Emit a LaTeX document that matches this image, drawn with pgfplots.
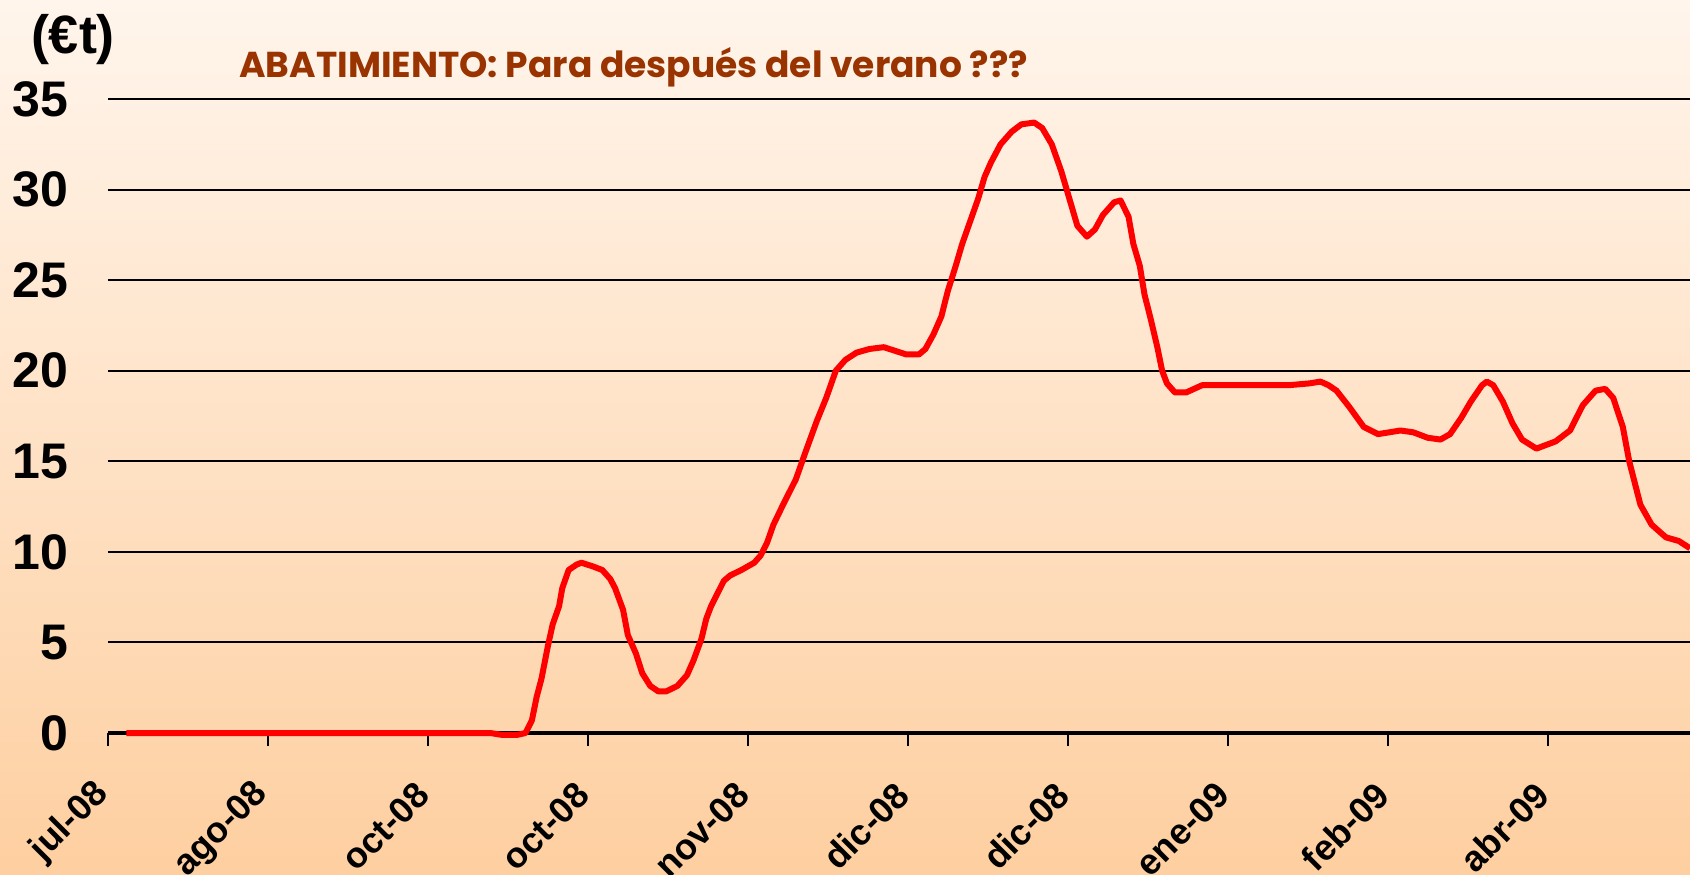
\documentclass[border=0pt]{standalone}
\usepackage{pgfplots}
\pgfplotsset{compat=1.18}
\usepackage{fontspec}
\setmainfont{Liberation Sans}
\newfontfamily\titlefont{Poppins}
\definecolor{bgtop}{RGB}{255,245,236}
\definecolor{bgbot}{RGB}{254,207,160}
\definecolor{titlebrown}{RGB}{153,51,0}
\begin{document}
\begin{tikzpicture}
\useasboundingbox (0,0) rectangle (845pt,437pt);
\shade[top color=bgtop, bottom color=bgbot] (0,0) rectangle (845pt,437pt);
\begin{scope}
\clip (0,0) rectangle (845pt,437pt);
\begin{axis}[
  at={(54pt,70.5pt)}, anchor=south west,
  scale only axis, width=791pt, height=317pt,
  xmin=0, xmax=9.89, ymin=0, ymax=35, clip=false,
  axis x line*=bottom, axis y line*=left,
  y axis line style={draw=none},
  x axis line style={line width=1.75pt, -},
  xtick={0,...,9},
  xticklabels={jul-08,ago-08,oct-08,oct-08,nov-08,dic-08,dic-08,ene-09,feb-09,abr-09},
  ytick={0,5,...,35},
  ymajorgrids, major grid style={black, line width=1pt},
  tick align=outside, major tick length=6.5pt,
  xtick style={black, line width=1pt},
  ytick style={draw=none},
  xticklabel shift=19pt,
  yticklabel shift=10pt,
  x tick label style={rotate=45, anchor=east, font=\fontsize{18}{22}\selectfont\bfseries},
  y tick label style={font=\fontsize{25}{30}\selectfont\bfseries},
  /pgf/number format/assume math mode=true,
]
\addplot[red, line width=3pt, line join=round] coordinates {
(0.115,0) (2.39,0) (2.46,-0.1) (2.56,-0.1) (2.61,0) (2.65,0.7) (2.68,2.0) (2.71,3.0) (2.75,4.8) (2.78,6.0) (2.82,7.0) (2.84,8.0) (2.88,9.0) (2.93,9.3) (2.96,9.4) (3.03,9.2) (3.09,9.0) (3.14,8.5) (3.17,8.0) (3.22,6.8) (3.25,5.4) (3.30,4.4) (3.34,3.3) (3.39,2.6) (3.44,2.3) (3.49,2.3) (3.56,2.6) (3.62,3.2) (3.66,4.0) (3.71,5.2) (3.74,6.3) (3.77,7.0) (3.81,7.7) (3.85,8.4) (3.89,8.7) (3.96,9.0) (4.04,9.4) (4.08,9.8) (4.12,10.5) (4.16,11.5) (4.22,12.6) (4.30,14.0) (4.36,15.5) (4.43,17.2) (4.49,18.5) (4.55,20.0) (4.61,20.6) (4.68,21.0) (4.76,21.2) (4.85,21.3) (4.92,21.1) (4.99,20.9) (5.07,20.9) (5.11,21.2) (5.16,22.0) (5.21,23.0) (5.25,24.4) (5.30,25.8) (5.34,27.0) (5.38,28.0) (5.44,29.5) (5.48,30.7) (5.52,31.5) (5.58,32.5) (5.65,33.2) (5.71,33.6) (5.79,33.7) (5.84,33.4) (5.90,32.5) (5.96,31.0) (6.02,29.2) (6.06,28.0) (6.12,27.4) (6.17,27.8) (6.22,28.6) (6.29,29.3) (6.33,29.4) (6.38,28.5) (6.41,27.0) (6.45,25.8) (6.48,24.2) (6.52,22.8) (6.56,21.3) (6.59,20.0) (6.62,19.3) (6.67,18.8) (6.74,18.8) (6.84,19.2) (7.38,19.2) (7.51,19.3) (7.58,19.4) (7.63,19.2) (7.68,18.9) (7.76,18.0) (7.85,16.9) (7.94,16.5) (8.08,16.7) (8.16,16.6) (8.25,16.3) (8.33,16.2) (8.39,16.5) (8.46,17.4) (8.52,18.3) (8.59,19.2) (8.62,19.4) (8.66,19.2) (8.72,18.3) (8.78,17.1) (8.84,16.2) (8.93,15.7) (9.05,16.1) (9.14,16.7) (9.22,18.1) (9.30,18.9) (9.36,19.0) (9.41,18.5) (9.47,16.9) (9.51,15.0) (9.58,12.6) (9.65,11.5) (9.74,10.8) (9.82,10.6) (9.89,10.2)
};
\end{axis}
\node[anchor=base west, inner sep=0pt, text=titlebrown, font=\titlefont\fontsize{18}{21}\selectfont\bfseries] at (119.5pt,398pt) {ABATIMIENTO: Para después del verano ???};
\node[inner sep=0pt, font=\fontsize{27}{32}\selectfont\bfseries] at (36.5pt,417pt) {(€t)};
\end{scope}
\end{tikzpicture}
\end{document}
